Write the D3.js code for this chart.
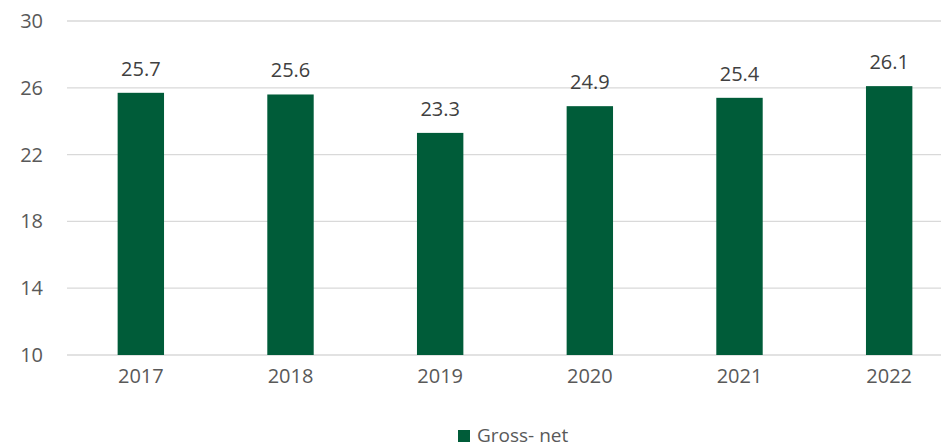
<!DOCTYPE html>
<html><head><meta charset="utf-8">
<script src="https://cdn.jsdelivr.net/npm/d3@7"></script>
<style>body{margin:0;background:#fff;}svg{display:block;font-family:"Open Sans",sans-serif;}</style>
</head><body>
<svg id="c" width="941" height="447"></svg>
<script>
const categories = ["2017","2018","2019","2020","2021","2022"];
const values = [25.7, 25.6, 23.3, 24.9, 25.4, 26.1];
const yTicks = [10, 14, 18, 22, 26, 30];
const seriesName = "Gross- net";

const svg = d3.select("#c");
const x = d3.scaleBand().domain(categories).range([66, 964]).paddingInner(0.69).paddingOuter(0.345);
const y = d3.scaleLinear().domain([10, 30]).range([355, 21]);

// gridlines
svg.append("g").selectAll("line").data(yTicks).join("line")
  .attr("x1", 67).attr("x2", 941)
  .attr("y1", d => y(d)).attr("y2", d => y(d))
  .attr("stroke", "#d9d9d9").attr("stroke-width", 1.3);

// y axis labels
const yAxis = d3.axisLeft(y).tickValues(yTicks).tickSize(0).tickPadding(0);
const gy = svg.append("g").attr("transform", "translate(43,0)").call(yAxis);
gy.select(".domain").remove();
gy.selectAll("text").attr("font-size", 20).attr("fill", "#595959").attr("font-family", "Open Sans");

// bars
svg.append("g").selectAll("rect").data(values).join("rect")
  .attr("x", (d, i) => x(categories[i]))
  .attr("width", x.bandwidth())
  .attr("y", d => y(d))
  .attr("height", d => y(10) - y(d))
  .attr("fill", "#005C39");

// value labels
svg.append("g").selectAll("text").data(values).join("text")
  .attr("x", (d, i) => x(categories[i]) + x.bandwidth() / 2)
  .attr("y", d => y(d) - 17)
  .attr("text-anchor", "middle")
  .attr("font-size", 20).attr("fill", "#404040")
  .text(d => d.toFixed(1));

// x axis labels
const xAxis = d3.axisBottom(x).tickSize(0).tickPadding(0);
const gx = svg.append("g").attr("transform", "translate(0,369)").call(xAxis);
gx.select(".domain").remove();
gx.selectAll("text").attr("font-size", 20).attr("fill", "#595959").attr("font-family", "Open Sans");

// legend
const lg = svg.append("g");
lg.append("rect").attr("x", 458).attr("y", 430).attr("width", 12).attr("height", 12).attr("fill", "#005C39");
lg.append("text").attr("x", 477).attr("y", 442).attr("font-size", 19).attr("fill", "#595959").text(seriesName);
</script>
</body></html>
